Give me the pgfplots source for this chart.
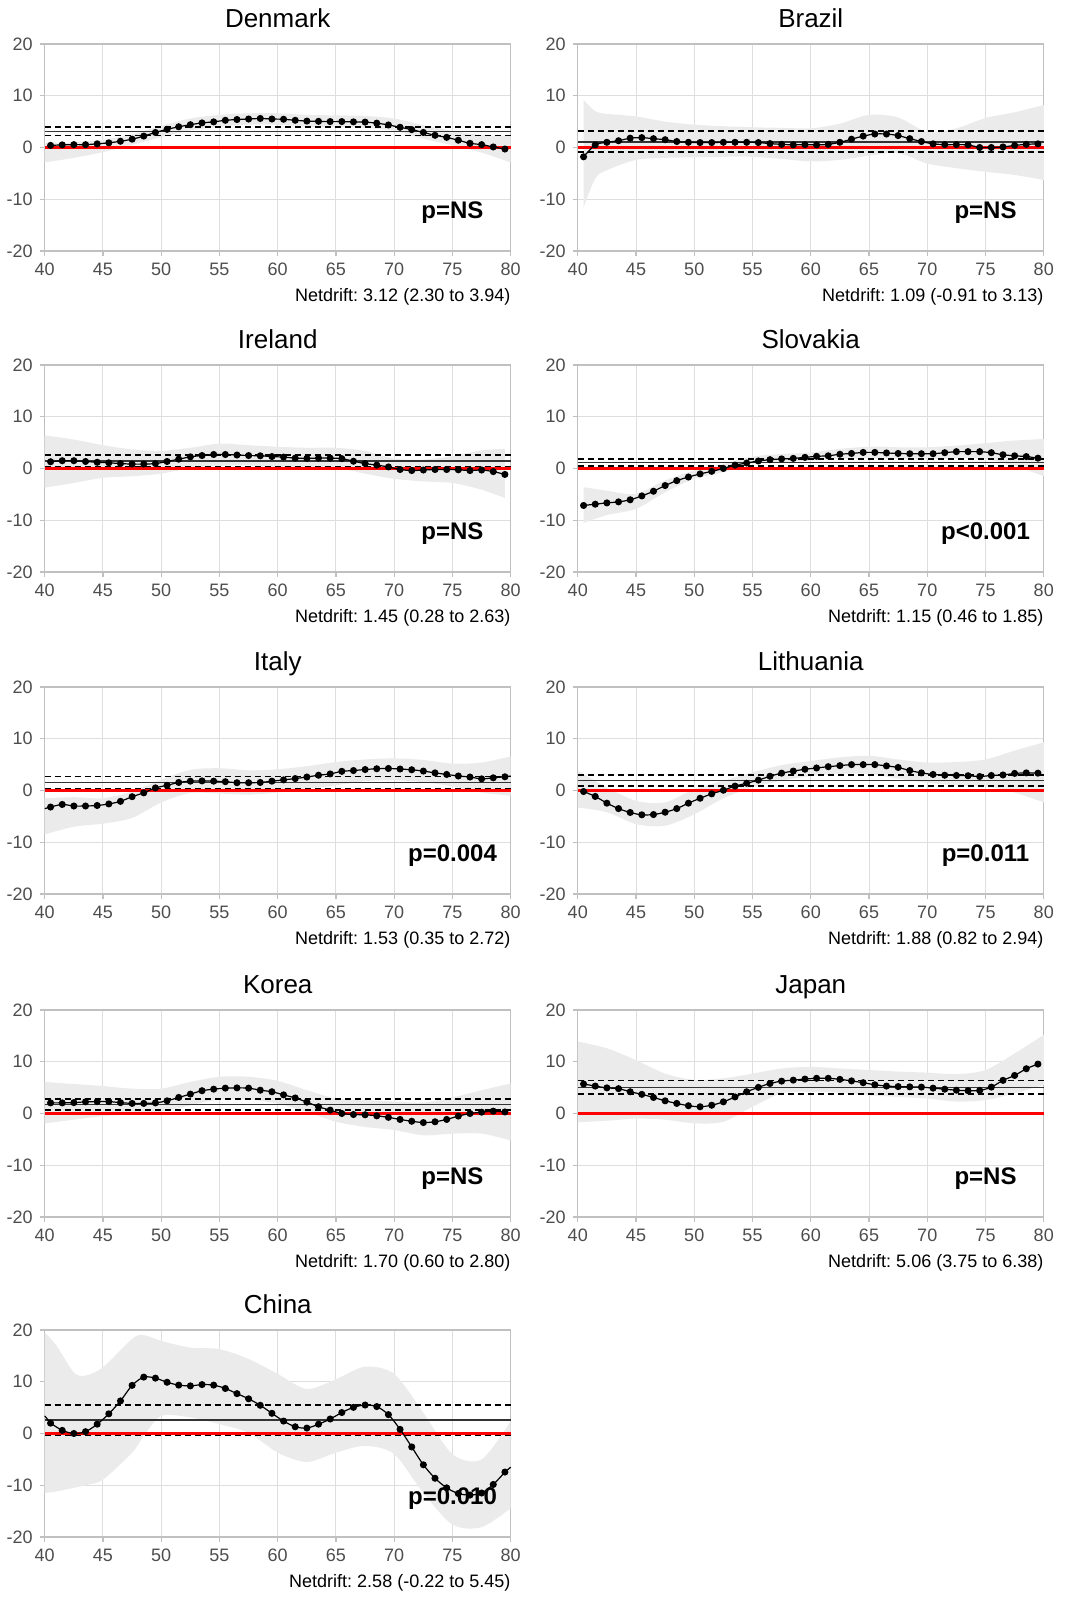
\documentclass[border=0pt]{standalone}
\usepackage{fontspec}
\setmainfont{Liberation Sans}
\usepackage{pgfplots}
\usepackage{pgfplotstable}
\pgfplotsset{compat=1.18}
\usepgfplotslibrary{fillbetween}

\definecolor{gridgray}{HTML}{DEDEDE}
\definecolor{bandgray}{HTML}{EBEBEB}
\definecolor{framegray}{HTML}{C0C0C0}
\definecolor{ticktext}{HTML}{4D4D4D}
\definecolor{ndline}{HTML}{333333}

% ---------- local drift (dots) and confidence bands ----------
\pgfplotstableread{
x y
40.5 0.4
41.5 0.5
42.5 0.55
43.5 0.55
44.5 0.7
45.5 0.9
46.5 1.2
47.5 1.6
48.5 2.2
49.5 2.9
50.5 3.5
51.5 4.0
52.5 4.4
53.5 4.75
54.5 4.95
55.5 5.25
56.5 5.4
57.5 5.5
58.5 5.6
59.5 5.5
60.5 5.45
61.5 5.25
62.5 5.1
63.5 5.05
64.5 5.0
65.5 5.0
66.5 4.95
67.5 4.9
68.5 4.7
69.5 4.35
70.5 3.9
71.5 3.45
72.5 2.9
73.5 2.35
74.5 1.95
75.5 1.4
76.5 0.8
77.5 0.55
78.5 0.1
79.5 -0.3
}\dkdots
\pgfplotstableread{
x lo hi
40 -2.9 0.9
42.5 -2.0 1.0
45 -0.9 1.5
47.5 0.5 2.5
50 2.0 4.2
52.5 3.3 5.6
55 4.0 6.3
57.5 4.4 6.6
60 4.4 6.6
62.5 4.0 6.3
65 3.9 6.2
67.5 3.8 6.1
70 3.2 5.6
72.5 1.7 4.3
75 0.4 3.2
77.5 -1.0 2.4
80 -2.9 2.2
}\dkband

\pgfplotstableread{
x y
40.5 -1.8
41.5 0.5
42.5 1.0
43.5 1.3
44.5 1.8
45.5 1.9
46.5 1.7
47.5 1.5
48.5 1.15
49.5 1.0
50.5 0.95
51.5 0.95
52.5 1.0
53.5 1.0
54.5 1.0
55.5 0.95
56.5 0.75
57.5 0.6
58.5 0.5
59.5 0.55
60.5 0.5
61.5 0.6
62.5 1.0
63.5 1.6
64.5 2.2
65.5 2.6
66.5 2.6
67.5 2.3
68.5 1.7
69.5 1.15
70.5 0.7
71.5 0.55
72.5 0.55
73.5 0.5
74.5 0.0
75.5 0.0
76.5 0.1
77.5 0.4
78.5 0.6
79.5 0.7
}\brdots
\pgfplotstableread{
x lo hi
40.5 -11.6 9.2
41.5 -6.0 7.0
42.5 -4.4 6.5
45 -2.4 6.0
47.5 -2.0 5.0
50 -1.9 4.4
52.5 -1.8 4.1
55 -1.8 3.9
57.5 -2.2 3.8
60 -2.7 3.7
62.5 -2.4 4.6
65 -1.6 6.3
67.5 -1.1 5.8
70 -3.1 3.0
72.5 -4.0 3.7
75 -4.7 5.7
77.5 -5.3 6.8
80 -6.3 8.2
}\brband

\pgfplotstableread{
x y
40.5 1.3
41.5 1.5
42.5 1.5
43.5 1.35
44.5 1.2
45.5 1.1
46.5 0.95
47.5 0.85
48.5 0.85
49.5 0.95
50.5 1.35
51.5 1.8
52.5 2.25
53.5 2.5
54.5 2.7
55.5 2.7
56.5 2.6
57.5 2.5
58.5 2.45
59.5 2.3
60.5 2.2
61.5 2.0
62.5 1.95
63.5 2.0
64.5 2.0
65.5 1.9
66.5 1.4
67.5 0.95
68.5 0.65
69.5 0.3
70.5 -0.2
71.5 -0.4
72.5 -0.3
73.5 -0.2
74.5 -0.2
75.5 -0.25
76.5 -0.4
77.5 -0.3
78.5 -0.6
79.5 -1.15
}\iedots
\pgfplotstableread{
x lo hi
40 -3.7 6.4
42.5 -2.8 5.6
45 -1.8 4.5
47.5 -1.5 3.7
50 -1.0 3.4
52.5 0.1 4.0
55 0.5 4.8
57.5 0.6 4.5
60 0.1 4.2
62.5 -0.1 4.0
65 0.1 4.0
67.5 -1.0 3.4
70 -2.0 1.9
72.5 -2.5 1.7
75 -2.8 2.4
77.5 -4.1 3.5
79.5 -5.7 3.8
}\ieband

\pgfplotstableread{
x y
40.5 -7.15
41.5 -6.9
42.5 -6.65
43.5 -6.45
44.5 -6.05
45.5 -5.3
46.5 -4.4
47.5 -3.3
48.5 -2.35
49.5 -1.65
50.5 -1.05
51.5 -0.55
52.5 0.0
53.5 0.65
54.5 1.05
55.5 1.45
56.5 1.7
57.5 1.85
58.5 1.95
59.5 2.15
60.5 2.35
61.5 2.45
62.5 2.75
63.5 2.9
64.5 3.1
65.5 3.1
66.5 3.0
67.5 2.9
68.5 2.85
69.5 2.85
70.5 2.85
71.5 3.05
72.5 3.25
73.5 3.25
74.5 3.25
75.5 3.05
76.5 2.65
77.5 2.45
78.5 2.3
79.5 2.0
}\skdots
\pgfplotstableread{
x lo hi
40.5 -10.5 -3.6
42.5 -9.0 -4.3
45 -7.8 -4.9
47.5 -4.6 -2.3
50 -2.0 -0.4
52.5 -0.7 0.9
55 0.9 2.3
57.5 1.2 2.8
60 1.5 3.1
62.5 1.8 3.8
65 1.95 4.2
67.5 1.8 4.1
70 1.7 4.1
72.5 1.95 4.4
75 1.8 4.9
77.5 0.5 5.4
80 -1.5 5.7
}\skband

\pgfplotstableread{
x y
40.5 -3.2
41.5 -2.7
42.5 -3.0
43.5 -3.0
44.5 -2.9
45.5 -2.6
46.5 -2.1
47.5 -1.2
48.5 -0.45
49.5 0.5
50.5 1.0
51.5 1.55
52.5 1.8
53.5 1.85
54.5 1.8
55.5 1.7
56.5 1.5
57.5 1.5
58.5 1.55
59.5 1.8
60.5 2.05
61.5 2.3
62.5 2.6
63.5 2.95
64.5 3.2
65.5 3.7
66.5 3.85
67.5 4.05
68.5 4.2
69.5 4.25
70.5 4.15
71.5 4.0
72.5 3.75
73.5 3.4
74.5 3.1
75.5 2.8
76.5 2.6
77.5 2.25
78.5 2.45
79.5 2.65
}\itdots
\pgfplotstableread{
x lo hi
40 -8.5 -1.5
42.5 -7.0 -1.3
45 -6.4 -1.5
47.5 -5.3 -0.2
50 -2.3 2.1
52.5 -0.5 4.0
55 -0.6 4.3
57.5 -0.8 3.9
60 -0.4 4.1
62.5 0.3 4.7
65 1.0 5.5
67.5 1.8 6.0
70 2.0 6.2
72.5 1.6 5.9
75 0.8 5.2
77.5 -0.4 5.4
80 -1.0 6.6
}\itband

\pgfplotstableread{
x y
40.5 -0.2
41.5 -1.15
42.5 -2.45
43.5 -3.5
44.5 -4.25
45.5 -4.7
46.5 -4.65
47.5 -4.2
48.5 -3.5
49.5 -2.45
50.5 -1.5
51.5 -0.65
52.5 0.05
53.5 0.85
54.5 1.4
55.5 2.0
56.5 2.75
57.5 3.35
58.5 3.75
59.5 4.1
60.5 4.35
61.5 4.6
62.5 4.8
63.5 5.0
64.5 5.0
65.5 5.0
66.5 4.75
67.5 4.45
68.5 3.85
69.5 3.4
70.5 3.1
71.5 2.95
72.5 2.9
73.5 2.85
74.5 2.7
75.5 2.9
76.5 3.0
77.5 3.3
78.5 3.4
79.5 3.35
}\ltdots
\pgfplotstableread{
x lo hi
40 -3.3 3.8
42.5 -4.2 0.6
45 -6.5 -2.0
47.5 -6.8 -2.3
50 -4.6 0.25
52.5 -1.5 1.9
55 0.6 3.5
57.5 1.9 4.9
60 2.8 5.7
62.5 3.2 6.4
65 3.2 6.7
67.5 2.3 6.0
70 1.5 5.4
72.5 1.0 5.5
75 0.8 6.0
77.5 -0.4 7.7
80 -2.3 9.3
}\ltband

\pgfplotstableread{
x y
40.5 2.05
41.5 2.05
42.5 2.1
43.5 2.25
44.5 2.3
45.5 2.3
46.5 2.1
47.5 1.95
48.5 1.95
49.5 2.05
50.5 2.45
51.5 3.1
52.5 3.75
53.5 4.4
54.5 4.7
55.5 4.9
56.5 4.95
57.5 4.9
58.5 4.5
59.5 4.2
60.5 3.6
61.5 3.0
62.5 2.2
63.5 1.3
64.5 0.65
65.5 0.0
66.5 -0.2
67.5 -0.25
68.5 -0.45
69.5 -0.75
70.5 -1.15
71.5 -1.5
72.5 -1.75
73.5 -1.6
74.5 -1.15
75.5 -0.5
76.5 0.0
77.5 0.25
78.5 0.45
79.5 0.3
}\krdots
\pgfplotstableread{
x lo hi
40 -1.9 6.1
42.5 -1.2 5.7
45 -0.5 5.3
47.5 -0.1 4.8
50 0.3 4.8
52.5 1.6 6.1
55 2.7 7.1
57.5 2.7 7.1
60 1.9 6.3
62.5 0.3 4.5
65 -1.6 2.9
67.5 -2.6 2.6
70 -3.2 2.3
72.5 -4.2 2.1
75 -3.9 3.1
77.5 -3.9 4.5
80 -5.2 5.8
}\krband

\pgfplotstableread{
x y
40.5 5.7
41.5 5.3
42.5 4.95
43.5 4.8
44.5 4.2
45.5 3.7
46.5 3.1
47.5 2.45
48.5 1.95
49.5 1.5
50.5 1.3
51.5 1.6
52.5 2.25
53.5 3.2
54.5 4.2
55.5 5.05
56.5 5.8
57.5 6.25
58.5 6.45
59.5 6.65
60.5 6.8
61.5 6.8
62.5 6.6
63.5 6.3
64.5 5.95
65.5 5.55
66.5 5.3
67.5 5.2
68.5 5.15
69.5 5.1
70.5 4.9
71.5 4.7
72.5 4.5
73.5 4.4
74.5 4.45
75.5 5.1
76.5 6.4
77.5 7.35
78.5 8.65
79.5 9.55
}\jpdots
\pgfplotstableread{
x lo hi
40 -1.7 13.9
42.5 -1.4 12.6
45 -1.0 10.3
47.5 -1.2 7.7
50 -1.9 6.5
52.5 -1.6 6.8
55 1.3 7.7
57.5 3.9 8.7
60 4.2 9.0
62.5 4.0 8.7
65 3.5 8.4
67.5 3.2 8.1
70 2.9 7.9
72.5 2.3 7.6
75 2.6 8.4
77.5 3.9 11.6
80 5.5 15.2
}\jpband

\pgfplotstableread{
x y
40.5 2.0
41.5 0.6
42.5 0.0
43.5 0.35
44.5 1.8
45.5 3.8
46.5 6.3
47.5 9.3
48.5 10.9
49.5 10.7
50.5 9.9
51.5 9.35
52.5 9.2
53.5 9.45
54.5 9.35
55.5 8.7
56.5 7.7
57.5 6.7
58.5 5.45
59.5 3.9
60.5 2.4
61.5 1.3
62.5 1.05
63.5 1.8
64.5 2.8
65.5 4.05
66.5 5.05
67.5 5.5
68.5 5.2
69.5 3.65
70.5 0.8
71.5 -2.6
72.5 -6.05
73.5 -8.65
74.5 -10.5
75.5 -11.6
76.5 -11.9
77.5 -11.5
78.5 -9.85
79.5 -7.45
}\cndots
\pgfplotstableread{
x lo hi
40 -11.5 19.5
41 -11.2 17.0
42.5 -10.5 11.8
43.5 -10.0 11.2
45 -8.9 12.8
47.5 -3.7 18.3
48.5 -0.5 19.0
50 3.4 17.9
52.5 3.1 16.6
55 1.8 16.3
57.5 0.15 14.4
60 -3.7 11.5
62.5 -5.5 8.6
65 -3.7 10.5
67.5 -2.4 12.9
70 -4.0 11.5
72.5 -11.5 4.0
75 -17.6 -4.0
77.5 -18.1 -5.0
80 -14.4 2.4
}\cnband

\tikzset{
  pval/.style={font=\bfseries\fontsize{12}{14}\selectfont, anchor=base},
}

\pgfplotsset{
  drift/.style={
    scale only axis, width=233pt, height=103.5pt,
    anchor=south west, clip=false,
    xmin=40, xmax=80, ymin=-20, ymax=20,
    xtick={40,45,...,80}, ytick={-20,-10,0,10,20},
    xticklabels={40,45,50,55,60,65,70,75,80},
    yticklabels={-20,-10,0,10,20},
    grid=major, grid style={gridgray, line width=0.5pt},
    axis line style={framegray, line width=0.6pt},
    tick align=outside, major tick length=2.5pt,
    tick style={framegray, line width=0.6pt},
    xtick pos=bottom, ytick pos=left,
    ticklabel style={font=\fontsize{9}{10}\selectfont, text=ticktext},
    title style={font=\fontsize{13}{15}\selectfont, at={(0.5,1)}, anchor=base,
                 inner sep=0pt, yshift=2.4pt},
    xlabel style={font=\fontsize{9}{10}\selectfont, at={(1,0)}, anchor=base east,
                  inner sep=0pt, yshift=-25.3pt},
  },
  band/.style={fill=bandgray, draw=none},
  edge/.style={draw=none, smooth},
  nd/.style={ndline, line width=0.7pt},
  ndci/.style={black, line width=0.9pt, dash pattern=on 3.2pt off 1.8pt},
  zero/.style={red, line width=1.7pt},
  ld/.style={black, line width=0.6pt, smooth, mark=*, mark size=1.45pt,
             mark options={solid, fill=black}},
  ldext/.style={black, line width=0.6pt},
}

% one panel: #1 band table, #2 dots table, #3 net drift, #4 lower, #5 upper, #6 p label
\newcommand{\driftbody}[6]{%
  \addplot[edge, name path=hi] table[x=x, y=hi] {#1};
  \addplot[edge, name path=lo] table[x=x, y=lo] {#1};
  \addplot[band] fill between[of=hi and lo];
  \addplot[ndci] coordinates {(40,#4) (80,#4)};
  \addplot[ndci] coordinates {(40,#5) (80,#5)};
  \addplot[nd] coordinates {(40,#3) (80,#3)};
  \addplot[zero] coordinates {(40,0) (80,0)};
  \addplot[ld] table[x=x, y=y] {#2};
  \node[pval] at (axis cs:75,-13.8) {#6};
}

\begin{document}
\frenchspacing
\begin{tikzpicture}

\begin{axis}[drift, at={(21.5pt,673.5pt)}, title={Denmark},
  xlabel={Netdrift: 3.12 (2.30 to 3.94)}]
  \driftbody{\dkband}{\dkdots}{3.12}{2.30}{3.94}{p=NS}
\end{axis}

\begin{axis}[drift, at={(288pt,673.5pt)}, title={Brazil},
  xlabel={Netdrift: 1.09 (-0.91 to 3.13)}]
  \driftbody{\brband}{\brdots}{1.09}{-0.91}{3.13}{p=NS}
\end{axis}

\begin{axis}[drift, at={(21.5pt,513pt)}, title={Ireland},
  xlabel={Netdrift: 1.45 (0.28 to 2.63)}]
  \driftbody{\ieband}{\iedots}{1.45}{0.28}{2.63}{p=NS}
\end{axis}

\begin{axis}[drift, at={(288pt,513pt)}, title={Slovakia},
  xlabel={Netdrift: 1.15 (0.46 to 1.85)}]
  \driftbody{\skband}{\skdots}{1.15}{0.46}{1.85}{p<0.001}
\end{axis}

\begin{axis}[drift, at={(21.5pt,352pt)}, title={Italy},
  xlabel={Netdrift: 1.53 (0.35 to 2.72)}]
  \driftbody{\itband}{\itdots}{1.53}{0.35}{2.72}{p=0.004}
  \addplot[ldext] coordinates {(40,-3.5) (40.5,-3.2)};
  \addplot[ldext] coordinates {(79.5,2.65) (80,2.8)};
\end{axis}

\begin{axis}[drift, at={(288pt,352pt)}, title={Lithuania},
  xlabel={Netdrift: 1.88 (0.82 to 2.94)}]
  \driftbody{\ltband}{\ltdots}{1.88}{0.82}{2.94}{p=0.011}
\end{axis}

\begin{axis}[drift, at={(21.5pt,190.5pt)}, title={Korea},
  xlabel={Netdrift: 1.70 (0.60 to 2.80)}]
  \driftbody{\krband}{\krdots}{1.70}{0.60}{2.80}{p=NS}
\end{axis}

\begin{axis}[drift, at={(288pt,190.5pt)}, title={Japan},
  xlabel={Netdrift: 5.06 (3.75 to 6.38)}]
  \driftbody{\jpband}{\jpdots}{5.06}{3.75}{6.38}{p=NS}
\end{axis}

\begin{axis}[drift, at={(21.5pt,30.5pt)}, title={China},
  xlabel={Netdrift: 2.58 (-0.22 to 5.45)}]
  \driftbody{\cnband}{\cndots}{2.58}{-0.22}{5.45}{p=0.010}
  \addplot[ldext] coordinates {(40,3.4) (40.5,2.0)};
  \addplot[ldext] coordinates {(79.5,-7.45) (80,-6.5)};
\end{axis}

% page frame
\path (0,0) rectangle (532pt,799pt);
\end{tikzpicture}
\end{document}
